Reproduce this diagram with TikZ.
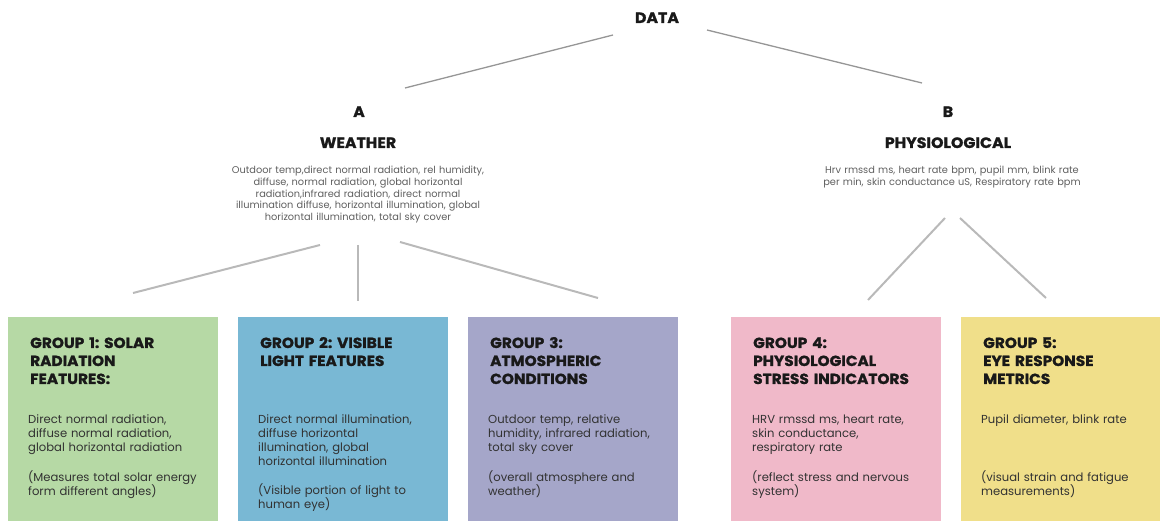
\documentclass[tikz,border=0pt]{standalone}
\usepackage{fontspec}
\setmainfont{Poppins}[BoldFeatures={FakeStretch=1.05,FakeBold=1.2}]
\frenchspacing
\definecolor{ggreen}{RGB}{182,217,165}
\definecolor{gblue}{RGB}{121,184,212}
\definecolor{gpurple}{RGB}{165,166,201}
\definecolor{gpink}{RGB}{240,185,201}
\definecolor{gyellow}{RGB}{240,223,138}
\definecolor{txtdark}{RGB}{25,25,25}
\definecolor{txtbody}{RGB}{50,50,50}
\definecolor{txtgray}{RGB}{95,95,95}
\definecolor{linegray}{RGB}{150,150,150}
\definecolor{linelight}{RGB}{185,185,185}
\begin{document}
\begin{tikzpicture}[x=1pt,y=-1pt,
  groupbox/.style={anchor=north west,minimum width=210pt,minimum height=210pt,inner sep=0pt,draw=none},
  head/.style={font=\bfseries\fontsize{15}{17}\selectfont,text=txtdark,inner sep=0pt,anchor=base},
  smallbody/.style={font=\fontsize{9.8}{11.8}\selectfont,text=txtgray,align=center,inner sep=0pt,anchor=base,text width=320pt},
  gtitle/.style={font=\bfseries\fontsize{14.6}{18}\selectfont,text=txtdark,align=left,text width=200pt,inner sep=0pt,anchor=base west},
  gbody/.style={font=\fontsize{11.6}{14}\selectfont,text=txtbody,align=left,text width=200pt,inner sep=0pt,anchor=base west},
  topline/.style={draw=linegray,line width=1.3pt},
  lowline/.style={draw=linelight,line width=2pt}
]
\useasboundingbox (0,0) rectangle (1160,521);

% headers
\node[head] (data) at (657,23) {DATA};
\node[head] (a) at (359,117) {A};
\node[head] (weather) at (358,148) {WEATHER};
\node[smallbody] (wbody) at (358,173.5) {Outdoor temp,direct normal radiation, rel humidity,\\diffuse, normal radiation, global horizontal\\radiation,infrared radiation, direct normal\\illumination diffuse, horizontal illumination, global\\horizontal illumination, total sky cover};
\node[head] (b) at (948,117) {B};
\node[head] (phys) at (948,148) {PHYSIOLOGICAL};
\node[smallbody] (pbody) at (952,173.5) {Hrv rmssd ms, heart rate bpm, pupil mm, blink rate\\per min, skin conductance uS, Respiratory rate bpm};

% connector end points
\coordinate (da1) at (613,35);  \coordinate (da2) at (405,88);
\coordinate (db1) at (707,30);  \coordinate (db2) at (922,83);
\coordinate (w11) at (320,245); \coordinate (w12) at (133,293);
\coordinate (w21) at (358,245); \coordinate (w22) at (358,301);
\coordinate (w31) at (400,242); \coordinate (w32) at (598,298);
\coordinate (p41) at (945,218); \coordinate (p42) at (868,300);
\coordinate (p51) at (960,218); \coordinate (p52) at (1046,298);

\draw[topline] (da1) -- (da2);
\draw[topline] (db1) -- (db2);
\draw[lowline] (w11) -- (w12);
\draw[lowline] (w21) -- (w22);
\draw[lowline] (w31) -- (w32);
\draw[lowline] (p41) -- (p42);
\draw[lowline] (p51) -- (p52);

% boxes
\node[groupbox,fill=ggreen] (g1) at (8,317) {};
\node[groupbox,fill=gblue] (g2) at (238,317) {};
\node[groupbox,fill=gpurple] (g3) at (468,317) {};
\node[groupbox,fill=gpink] (g4) at (731,317) {};
\node[groupbox,fill=gyellow,minimum width=200pt] (g5) at (961,317) {};

% group 1
\node[gtitle] (t1) at (30,348) {GROUP 1: SOLAR\\RADIATION\\FEATURES:};
\node[gbody] (b1) at (28,424) {Direct normal radiation,\\diffuse normal radiation,\\global horizontal radiation};
\node[gbody] (c1) at (28,481) {(Measures total solar energy\\form different angles)};
% group 2
\node[gtitle] (t2) at (260,348) {GROUP 2: VISIBLE\\LIGHT FEATURES};
\node[gbody] (b2) at (258,424) {Direct normal illumination,\\diffuse horizontal\\illumination, global\\horizontal illumination};
\node[gbody] (c2) at (258,494) {(Visible portion of light to\\human eye)};
% group 3
\node[gtitle] (t3) at (490,348) {GROUP 3:\\ATMOSPHERIC\\CONDITIONS};
\node[gbody] (b3) at (488,424) {Outdoor temp, relative\\humidity, infrared radiation,\\total sky cover};
\node[gbody] (c3) at (488,481) {(overall atmosphere and\\weather)};
% group 4
\node[gtitle] (t4) at (753,348) {GROUP 4:\\PHYSIOLOGICAL\\STRESS INDICATORS};
\node[gbody] (b4) at (752,424) {HRV rmssd ms, heart rate,\\skin conductance,\\respiratory rate};
\node[gbody] (c4) at (752,481) {(reflect stress and nervous\\system)};
% group 5
\node[gtitle] (t5) at (983,348) {GROUP 5:\\EYE RESPONSE\\METRICS};
\node[gbody] (b5) at (981,424) {Pupil diameter, blink rate};
\node[gbody] (c5) at (981,481) {(visual strain and fatigue\\measurements)};
\end{tikzpicture}
\end{document}
